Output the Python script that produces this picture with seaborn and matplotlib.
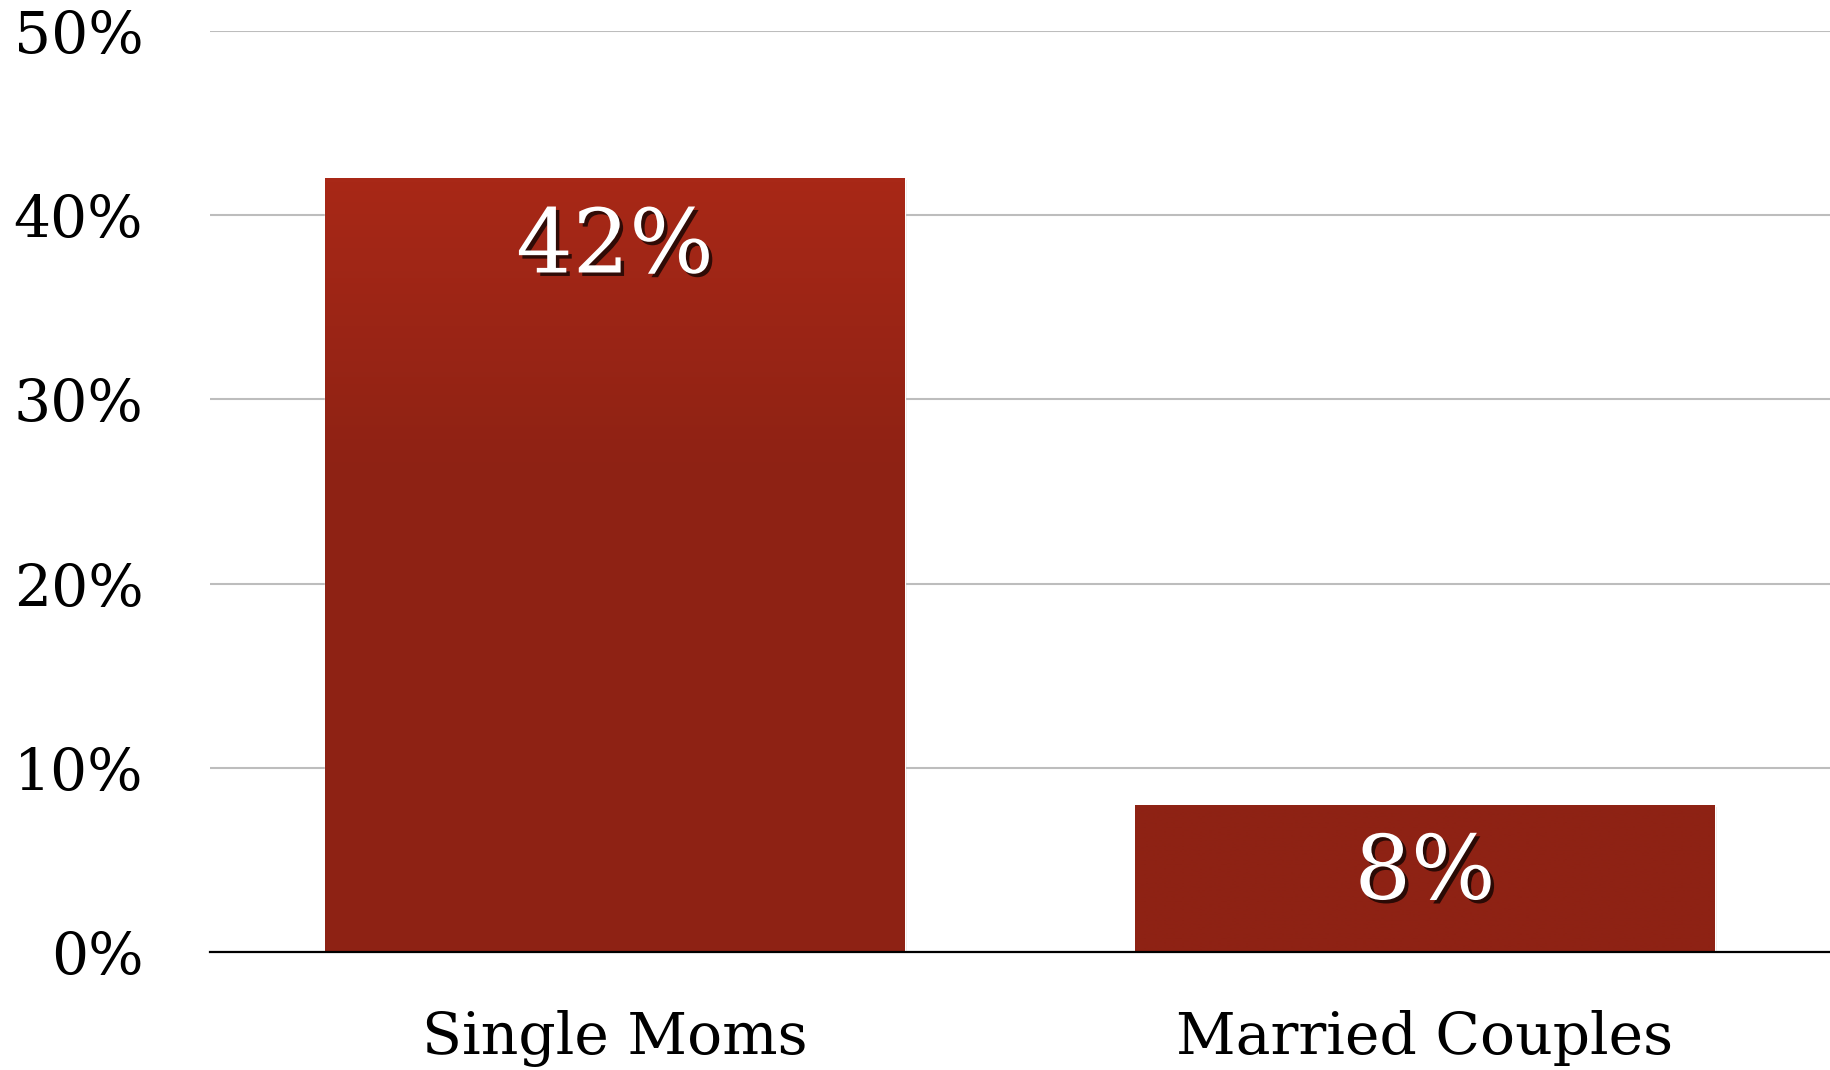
import numpy as np
import pandas as pd
import matplotlib
matplotlib.use("Agg")
import matplotlib.pyplot as plt
import matplotlib.patheffects as pe
from matplotlib.colors import LinearSegmentedColormap
import seaborn as sns

categories = ["Single Moms", "Married Couples"]
values = [42, 8]
ytick_values = [0, 10, 20, 30, 40, 50]
ytick_labels = ["0%", "10%", "20%", "30%", "40%", "50%"]

sns.set_theme(style="white")
plt.rcParams["font.family"] = ["DejaVu Serif"]

df = pd.DataFrame({"category": categories, "value": values})

fig = plt.figure(figsize=(18.3, 10.7), dpi=100)
ax = fig.add_axes([210 / 1830, 1 - 952 / 1070, 1 - 210 / 1830, (952 - 31) / 1070])

sns.barplot(data=df, x="category", y="value", color="#952414", width=0.716,
            saturation=1, ax=ax, zorder=3)

ax.set_xlim(-0.5, 1.5)
ax.set_ylim(0, 50)
ax.set_yticks(ytick_values)
ax.set_yticklabels(ytick_labels)
ax.yaxis.grid(True, color="#BDBDBD", linewidth=1.5, zorder=0)
ax.set_axisbelow(True)
ax.set_xlabel("")
ax.set_ylabel("")
for s in ["left", "right", "top"]:
    ax.spines[s].set_visible(False)
ax.spines["bottom"].set_color("black")
ax.spines["bottom"].set_linewidth(1.6)
ax.spines["bottom"].set_zorder(5)
ax.tick_params(axis="y", length=0, pad=48, labelsize=42, labelcolor="black")
ax.tick_params(axis="x", length=0, pad=42, labelsize=42, labelcolor="black")

# gradient fill clipped to each bar
cmap = LinearSegmentedColormap.from_list("bar", ["#8E2214", "#8E2214", "#A82817"])
for patch in ax.patches:
    patch.set_path_effects([pe.SimplePatchShadow(offset=(1.5, -1.5), shadow_rgbFace="black", alpha=0.08),
                            pe.Normal()])
    x0, y0 = patch.get_x(), patch.get_y()
    w, h = patch.get_width(), patch.get_height()
    ys = np.linspace(0, 1, 256).reshape(-1, 1) * h
    grad = np.clip((ys - 26) / (42 - 26), 0, 1) * 0.5 + 0.5
    grad = np.where(ys < 26, 0.0, grad)
    im = ax.imshow(grad, extent=(x0, x0 + w, y0, y0 + h), origin="lower",
                   cmap=cmap, vmin=0, vmax=1, aspect="auto", zorder=4,
                   interpolation="bilinear")
    im.set_clip_path(patch)
ax.set_xlim(-0.5, 1.5)
ax.set_ylim(0, 50)

for i, v in enumerate(values):
    ax.annotate(f"{v}%", xy=(i, v), xytext=(0, -50), textcoords="offset points",
                ha="center", va="center", color="white", fontsize=64, zorder=6,
                path_effects=[pe.SimplePatchShadow(offset=(2.5, -2.5), shadow_rgbFace="black", alpha=0.7),
                              pe.Normal()])

fig.savefig("out.png", dpi=100, facecolor="white")
